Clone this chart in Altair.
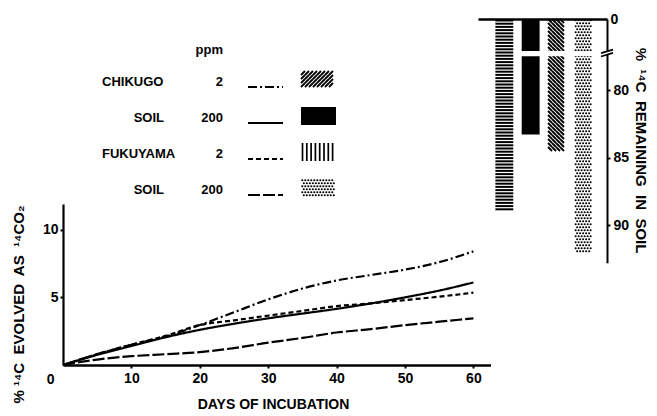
import altair as alt
import numpy as np
import pandas as pd

# ---------------- data ----------------
days = [0, 5, 10, 15, 20, 25, 30, 35, 40, 45, 50, 55, 60]
chikugo_2 = [0, 0.8, 1.5, 2.1, 2.95, 3.9, 4.85, 5.65, 6.25, 6.65, 7.05, 7.6, 8.4]
chikugo_200 = [0, 0.75, 1.4, 2.05, 2.6, 3.05, 3.45, 3.8, 4.15, 4.55, 5.0, 5.5, 6.1]
fukuyama_2 = [0, 0.8, 1.5, 2.15, 2.95, 3.3, 3.65, 4.0, 4.35, 4.55, 4.8, 5.05, 5.35]
fukuyama_200 = [0, 0.4, 0.65, 0.8, 0.95, 1.25, 1.65, 2.0, 2.4, 2.65, 2.95, 3.2, 3.45]
series_names = ["CHIKUGO 2", "CHIKUGO 200", "FUKUYAMA 2", "FUKUYAMA 200"]

legend_soil = ["CHIKUGO", "SOIL", "FUKUYAMA", "SOIL"]
legend_ppm = ["2", "200", "2", "200"]

bar_order = ["FUKUYAMA 2", "CHIKUGO 200", "CHIKUGO 2", "FUKUYAMA 200"]
remaining = [89.1, 83.3, 84.8, 92.2]

x_ticks = [10, 20, 30, 40, 50, 60]
y_ticks = [0, 5, 10]
remain_ticks = [0, 80, 85, 90]

NB = "\u00a0"
x_title = "DAYS OF INCUBATION"
y_title = f"% ¹⁴C{NB} EVOLVED{NB} AS{NB} ¹⁴CO₂"
remain_title = f"%{NB} ¹⁴C{NB} REMAINING{NB} IN{NB} SOIL"

# ---------------- layout / style ----------------
FONT = "Liberation Sans"
W, H = 544, 346
DASHES = [[9, 3, 2, 3], [1, 0], [5, 3], [12, 3]]

LX_DOMAIN, LX_RANGE = [0, 62.5], [0, 427.5]
LY_DOMAIN, LY_RANGE = [0, 11.9], [346, 185]
BREAK_LO, BREAK_HI = 10, 77.5
BX_DOMAIN, BX_RANGE = [0, 4.9], [415, 544]
BY_DOMAIN, BY_RANGE = [0, BREAK_LO, BREAK_HI, 92.8], [0, 32, 37.25, 243.8]
BAR_HALF = 0.34
LEG_ROW_RANGE = [63, 171]


def bx_px(v):
    return np.interp(v, BX_DOMAIN, BX_RANGE)


def bx_val(p):
    return np.interp(p, BX_RANGE, BX_DOMAIN)


def by_px(v):
    return np.interp(v, BY_DOMAIN, BY_RANGE)


def by_val(p):
    return np.interp(p, BY_RANGE, BY_DOMAIN)


def grid(x0, x1, y0, y1, step, inset, stagger=False):
    pts = []
    ys = np.arange(y0 + inset, y1 - inset + 0.01, step)
    for j, y in enumerate(ys):
        off = step / 2 if (stagger and j % 2) else 0.0
        x = x0 + inset + off
        while x <= x1 - inset + 0.01:
            pts.append((x, y))
            x += step
    return pts


def axis(**kw):
    base = dict(labelFont=FONT, labelFontSize=14, labelFontWeight="bold", labelColor="black",
                titleFont=FONT, titleFontSize=15, titleFontWeight="bold", titleColor="black",
                domainColor="black", tickColor="black", grid=False, labelFlush=False)
    base.update(kw)
    return alt.Axis(**base)


no_tick_at_zero = {"condition": {"test": "datum.value === 0", "value": 0}, "value": 3}

# ---------------- line chart ----------------
line_df = pd.DataFrame({
    "day": days * 4,
    "pct": chikugo_2 + chikugo_200 + fukuyama_2 + fukuyama_200,
    "series": np.repeat(series_names, len(days)),
})
dash_scale = alt.Scale(domain=series_names, range=DASHES)

lines = alt.Chart(line_df).mark_line(color="black", strokeWidth=2.2, interpolate="monotone").encode(
    x=alt.X("day:Q", scale=alt.Scale(domain=LX_DOMAIN, range=LX_RANGE, nice=False, zero=False),
            axis=axis(orient="bottom", values=x_ticks, tickSize=3, tickWidth=2, domainWidth=2.5,
                      labelPadding=3, title=x_title, titleFontSize=14, titleX=210, titleY=39,
                      titleBaseline="middle", titleAlign="center")),
    y=alt.Y("pct:Q", scale=alt.Scale(domain=LY_DOMAIN, range=LY_RANGE, nice=False, zero=False),
            axis=axis(orient="left", values=y_ticks, tickSize=no_tick_at_zero, tickWidth=2,
                      domainWidth=2.2,
                      labelPadding={"condition": {"test": "datum.value === 0", "value": 9}, "value": 2},
                      labelOffset={"condition": {"test": "datum.value === 0", "value": 14}, "value": 0},
                      title=y_title, titleX=-45, titleY=285,
                      titleBaseline="middle", titleAlign="center")),
    strokeDash=alt.StrokeDash("series:N", scale=dash_scale, legend=None),
)

# ---------------- bar chart (14C remaining) ----------------
bars = pd.DataFrame({"name": bar_order, "pos": [1, 2, 3, 4], "value": remaining})
bars["x0"] = bars["pos"] - BAR_HALF
bars["x1"] = bars["pos"] + BAR_HALF
bars["top"] = 0.0

bxs = alt.Scale(domain=BX_DOMAIN, range=BX_RANGE, nice=False, zero=False)
bys = alt.Scale(domain=BY_DOMAIN, range=BY_RANGE, nice=False, zero=False)

solid_bar = alt.Chart(bars[bars["name"] == "CHIKUGO 200"]).mark_rect(color="black").encode(
    x=alt.X("x0:Q", scale=bxs, axis=alt.Axis(orient="top", labels=False, ticks=False, title=None,
                                             domainColor="black", domainWidth=2.5, grid=False)),
    x2="x1:Q",
    y=alt.Y("top:Q", scale=bys,
            axis=axis(orient="right", values=remain_ticks, tickSize=no_tick_at_zero, tickWidth=2,
                      domainWidth=2, labelPadding=3, title=remain_title, titleX=33, titleY=131,
                      titleBaseline="middle", titleAlign="center")),
    y2="value:Q",
)

# horizontal stripes (FUKUYAMA 2)
b = bars[bars["name"] == "FUKUYAMA 2"].iloc[0]
ys = np.arange(1.5, by_px(b["value"]) - 0.5, 3.2)
stripe_df = pd.DataFrame({"x0": b["x0"], "x1": b["x1"], "yv": by_val(ys)})
stripes = alt.Chart(stripe_df).mark_rule(color="black", strokeWidth=2).encode(
    x=alt.X("x0:Q", scale=bxs, axis=None), x2="x1:Q",
    y=alt.Y("yv:Q", scale=bys, axis=None),
)

# diagonal hatch (CHIKUGO 2)
b = bars[bars["name"] == "CHIKUGO 2"].iloc[0]
pts = grid(bx_px(b["x0"]), bx_px(b["x1"]), 0, by_px(b["value"]), 4, 2)
hatch_df = pd.DataFrame({"hx": bx_val([p[0] for p in pts]), "hy": by_val([p[1] for p in pts])})
hatch = alt.Chart(hatch_df).mark_point(shape="M-1,-1L1,1", size=16, strokeWidth=1.8,
                                       color="black", opacity=1).encode(
    x=alt.X("hx:Q", scale=bxs, axis=None), y=alt.Y("hy:Q", scale=bys, axis=None))

# dots (FUKUYAMA 200)
b = bars[bars["name"] == "FUKUYAMA 200"].iloc[0]
pts = grid(bx_px(b["x0"]), bx_px(b["x1"]), 0, by_px(b["value"]), 3, 1.3, stagger=True)
dot_df = pd.DataFrame({"dx": bx_val([p[0] for p in pts]), "dy": by_val([p[1] for p in pts])})
dots = alt.Chart(dot_df).mark_point(shape="circle", filled=True, size=4.5, color="black",
                                    opacity=1).encode(
    x=alt.X("dx:Q", scale=bxs, axis=None), y=alt.Y("dy:Q", scale=bys, axis=None))

# scale break
gap_df = pd.DataFrame({"gx0": [1.5], "gx1": [4.5], "gy0": [BREAK_LO], "gy1": [BREAK_HI]})
gap = alt.Chart(gap_df).mark_rect(color="white").encode(
    x=alt.X("gx0:Q", scale=bxs, axis=None), x2="gx1:Q",
    y=alt.Y("gy0:Q", scale=bys, axis=None), y2="gy1:Q")
brk_df = pd.DataFrame({"kx": [BX_DOMAIN[1]], "ky": [by_val(33.0)]})
brk_fill = alt.Chart(brk_df).mark_point(shape="M-1,0.2L1,-0.4L1,0.15L-1,0.75Z", size=144,
                                        filled=True, color="white", opacity=1).encode(
    x=alt.X("kx:Q", scale=bxs, axis=None), y=alt.Y("ky:Q", scale=bys, axis=None))
brk_lines = alt.Chart(brk_df).mark_point(shape="M-1,0.2L1,-0.4M-1,0.75L1,0.15", size=144,
                                         strokeWidth=1.8, color="black", opacity=1).encode(
    x=alt.X("kx:Q", scale=bxs, axis=None), y=alt.Y("ky:Q", scale=bys, axis=None))

# ---------------- legend ----------------
lxs = alt.Scale(domain=[0, W], range=[0, W], nice=False, zero=False)
lys = alt.Scale(domain=[0, 3], range=LEG_ROW_RANGE, nice=False, zero=False)
ROW_PX = (LEG_ROW_RANGE[1] - LEG_ROW_RANGE[0]) / 3.0


def row_of(py):
    return (np.asarray(py) - LEG_ROW_RANGE[0]) / ROW_PX


leg_df = pd.DataFrame({"row": [0, 1, 2, 3], "soil": legend_soil, "ppm": legend_ppm,
                       "series": series_names})
leg_df["line_y"] = leg_df["row"] + 5 / ROW_PX
leg_df["sw_top"] = leg_df["row"] - 11 / ROW_PX
leg_df["sw_bot"] = leg_df["row"] + 7 / ROW_PX

txt = dict(font=FONT, fontSize=13, fontWeight="bold", color="black", baseline="middle")
header = alt.Chart(pd.DataFrame({"t": ["ppm"]})).mark_text(align="right", **txt).encode(
    x=alt.value(160), y=alt.value(31), text="t:N")
soil_first = alt.Chart(leg_df[leg_df["row"] % 2 == 0]).mark_text(align="left", **txt).encode(
    x=alt.value(39), y=alt.Y("row:Q", scale=lys, axis=None), text="soil:N")
soil_second = alt.Chart(leg_df[leg_df["row"] % 2 == 1]).mark_text(align="right", **txt).encode(
    x=alt.value(101), y=alt.Y("row:Q", scale=lys, axis=None), text="soil:N")
ppm_txt = alt.Chart(leg_df).mark_text(align="right", **txt).encode(
    x=alt.value(160), y=alt.Y("row:Q", scale=lys, axis=None), text="ppm:N")
samples = alt.Chart(leg_df).mark_rule(color="black", strokeWidth=2.2).encode(
    x=alt.value(185), x2=alt.value(220), y=alt.Y("line_y:Q", scale=lys, axis=None),
    strokeDash=alt.StrokeDash("series:N", scale=dash_scale, legend=None))
SW_X0, SW_X1 = 238, 273
sw_black = alt.Chart(leg_df[leg_df["series"] == "CHIKUGO 200"]).mark_rect(color="black").encode(
    x=alt.value(SW_X0), x2=alt.value(SW_X1),
    y=alt.Y("sw_top:Q", scale=lys, axis=None), y2="sw_bot:Q")


def sw_box(name):
    r = leg_df[leg_df["series"] == name].iloc[0]["row"]
    c = LEG_ROW_RANGE[0] + r * ROW_PX
    return c - 11, c + 7


t0, t1 = sw_box("CHIKUGO 2")
pts = grid(SW_X0, SW_X1, t0, t1, 4, 2)
lh_df = pd.DataFrame({"px": [p[0] for p in pts], "pr": row_of([p[1] for p in pts])})
leg_hatch = alt.Chart(lh_df).mark_point(shape="M-1,1L1,-1", size=16, strokeWidth=1.8,
                                        color="black", opacity=1).encode(
    x=alt.X("px:Q", scale=lxs, axis=None), y=alt.Y("pr:Q", scale=lys, axis=None))

t0, t1 = sw_box("FUKUYAMA 2")
vx = np.arange(SW_X0 + 1.5, SW_X1, 4.3)
lv_df = pd.DataFrame({"px": vx, "r0": row_of(t0), "r1": row_of(t1)})
leg_vlines = alt.Chart(lv_df).mark_rule(color="black", strokeWidth=1.7).encode(
    x=alt.X("px:Q", scale=lxs, axis=None), y=alt.Y("r0:Q", scale=lys, axis=None), y2="r1:Q")

t0, t1 = sw_box("FUKUYAMA 200")
pts = grid(SW_X0, SW_X1, t0, t1, 3, 1.3, stagger=True)
ld_df = pd.DataFrame({"px": [p[0] for p in pts], "pr": row_of([p[1] for p in pts])})
leg_dots = alt.Chart(ld_df).mark_point(shape="circle", filled=True, size=4.5, color="black",
                                       opacity=1).encode(
    x=alt.X("px:Q", scale=lxs, axis=None), y=alt.Y("pr:Q", scale=lys, axis=None))

chart = alt.layer(
    lines, solid_bar, stripes, hatch, dots, gap, brk_fill, brk_lines,
    soil_first, soil_second, ppm_txt, header, samples, sw_black,
    leg_hatch, leg_vlines, leg_dots,
).resolve_scale(
    x="independent", y="independent"
).properties(
    width=W, height=H,
    padding={"left": 55, "top": 11, "right": 42, "bottom": 50},
    autosize=alt.AutoSizeParams(type="none"),
).configure_view(stroke=None)

chart.save("out.html", embed_options={"renderer": "svg", "actions": False})
